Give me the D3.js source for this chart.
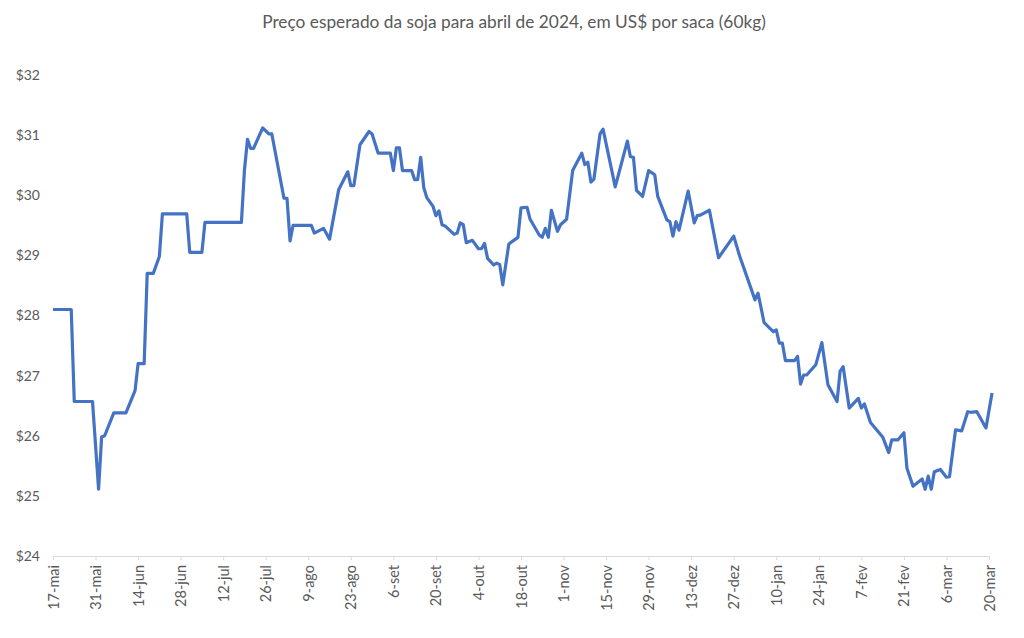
<!DOCTYPE html>
<html>
<head>
<meta charset="utf-8">
<script src="https://cdn.jsdelivr.net/npm/d3@7"></script>
<style>
    body { margin: 0; background: #fff; }
    #chart-area { width: 1024px; height: 638px; }
    .axis text { font-family: Lato, "Open Sans", sans-serif; fill: #595959; }
</style>
</head>
<body>
<div id="chart-area"></div>
<script>

// primeiro dia da serie
let startDate = new Date(2023, 4, 17);

// dias desde 17-mai-2023
let dayOffsets = [
    0, 6, 7, 13, 15, 16, 17, 20, 24, 27, 28, 30, 31, 33, 35, 36, 44, 45, 49, 50,
    62, 63, 64, 65, 66, 69, 71, 72, 76, 77, 78, 79, 85, 86, 89, 91, 94, 97, 98, 99,
    101, 104, 105, 107, 111, 112, 113, 114, 115, 118, 119, 120, 121, 122, 123, 125, 126, 127, 128, 129,
    132, 133, 134, 135, 136, 138, 140, 141, 142, 143, 145, 146, 147, 148, 150, 153, 154, 156, 157, 160,
    161, 162, 163, 164, 166, 167, 169, 171, 174, 175, 176, 177, 178, 180, 181, 185, 189, 190, 191, 192,
    194, 196, 198, 199, 202, 203, 204, 205, 206, 209, 211, 212, 213, 216, 219, 224, 226, 231, 232, 234,
    237, 238, 239, 240, 241, 244, 245, 246, 247, 248, 251, 253, 255, 258, 259, 260, 262, 265, 266, 267,
    269, 273, 275, 276, 278, 280, 281, 283, 286, 287, 288, 289, 290, 292, 294, 295, 297, 299, 301, 302,
    304, 307, 309
];

// preco esperado, US$ por saca de 60kg
let prices = [
    28.10, 28.10, 26.57, 26.57, 25.11, 25.98, 26.00, 26.38, 26.38, 26.75, 27.20, 27.20, 28.70, 28.70, 28.98, 29.69, 29.69, 29.05, 29.05, 29.55,
    29.55, 30.42, 30.93, 30.78, 30.78, 31.12, 31.02, 31.02, 29.95, 29.95, 29.24, 29.50, 29.50, 29.37, 29.45, 29.27, 30.09, 30.39, 30.16, 30.16,
    30.84, 31.06, 31.02, 30.70, 30.70, 30.41, 30.79, 30.79, 30.41, 30.41, 30.26, 30.26, 30.63, 30.13, 29.96, 29.82, 29.66, 29.74, 29.51, 29.49,
    29.35, 29.37, 29.54, 29.51, 29.21, 29.25, 29.11, 29.11, 29.20, 28.95, 28.84, 28.87, 28.85, 28.51, 29.19, 29.30, 29.79, 29.80, 29.60, 29.34,
    29.30, 29.45, 29.30, 29.75, 29.40, 29.51, 29.60, 30.41, 30.70, 30.51, 30.55, 30.22, 30.27, 31.02, 31.10, 30.14, 30.90, 30.64, 30.63, 30.08,
    29.98, 30.41, 30.34, 29.98, 29.59, 29.56, 29.32, 29.56, 29.42, 30.07, 29.54, 29.66, 29.67, 29.75, 28.96, 29.32, 28.98, 28.26, 28.37, 27.88,
    27.73, 27.76, 27.54, 27.54, 27.25, 27.25, 27.32, 26.86, 27.01, 27.01, 27.18, 27.55, 26.85, 26.57, 27.07, 27.15, 26.46, 26.62, 26.46, 26.53,
    26.22, 25.98, 25.72, 25.93, 25.93, 26.05, 25.46, 25.16, 25.28, 25.11, 25.33, 25.11, 25.40, 25.44, 25.31, 25.32, 26.10, 26.08, 26.40, 26.39,
    26.40, 26.13, 26.71
];

// rotulos do eixo x, um a cada 14 dias
let tickLabels = [
    "17-mai", "31-mai", "14-jun", "28-jun", "12-jul", "26-jul", "9-ago", "23-ago", "6-set", "20-set",
    "4-out", "18-out", "1-nov", "15-nov", "29-nov", "13-dez", "27-dez", "10-jan", "24-jan", "7-fev",
    "21-fev", "6-mar", "20-mar"
];

let yTicks = [24, 25, 26, 27, 28, 29, 30, 31, 32];

let chartTitle = "Preço esperado da soja para abril de 2024, em US$ por saca (60kg)";


class PriceChart {

    constructor(parentElement) {
        this.parentElement = parentElement;
        this.initVis();
    }

    initVis() {
        let vis = this;

        vis.margin = {top: 75, right: 35, bottom: 82, left: 53};
        vis.width = 1024 - vis.margin.left - vis.margin.right;
        vis.height = 638 - vis.margin.top - vis.margin.bottom;

        vis.root = d3.select("#" + vis.parentElement).append("svg")
            .attr("width", 1024)
            .attr("height", 638);

        vis.root.append("text")
            .attr("x", 514)
            .attr("y", 28)
            .attr("text-anchor", "middle")
            .attr("font-family", "Lato, 'Open Sans', sans-serif")
            .attr("font-size", 17.3)
            .attr("fill", "#595959")
            .text(chartTitle);

        vis.svg = vis.root.append("g")
            .attr("transform", "translate(" + vis.margin.left + "," + vis.margin.top + ")");

        vis.x = d3.scaleTime()
            .domain([startDate, d3.timeDay.offset(startDate, 308)])
            .range([0, vis.width]);

        vis.y = d3.scaleLinear()
            .domain([24, 32])
            .range([vis.height, 0]);

        vis.wrangleData();
    }

    wrangleData() {
        let vis = this;

        vis.series = dayOffsets.map((d, i) => ({
            date: d3.timeDay.offset(startDate, d),
            price: prices[i]
        }));

        vis.tickDates = tickLabels.map((d, i) => d3.timeDay.offset(startDate, i * 14));

        vis.updateVis();
    }

    updateVis() {
        let vis = this;

        // eixo y, so os rotulos
        let yAxis = d3.axisLeft(vis.y)
            .tickValues(yTicks)
            .tickSize(0)
            .tickPadding(13)
            .tickFormat(d => "$" + d);

        vis.svg.append("g")
            .attr("class", "y-axis axis")
            .call(yAxis)
            .call(g => g.select(".domain").remove())
            .selectAll("text")
            .attr("font-size", 14);

        // eixo x
        let xAxis = d3.axisBottom(vis.x)
            .tickValues(vis.tickDates)
            .tickSize(4)
            .tickFormat((d, i) => tickLabels[i]);

        let gx = vis.svg.append("g")
            .attr("class", "x-axis axis")
            .attr("transform", "translate(0," + vis.height + ")")
            .call(xAxis);

        gx.select(".domain").attr("stroke", "#d9d9d9");
        gx.selectAll(".tick line").attr("stroke", "#d9d9d9");
        gx.selectAll("text")
            .attr("font-size", 14.5)
            .attr("transform", "rotate(-90)")
            .attr("text-anchor", "end")
            .attr("x", -9)
            .attr("y", 0)
            .attr("dy", "0.35em");

        vis.svg.append("path")
            .datum(vis.series)
            .attr("d", d3.line()
                .x(d => vis.x(d.date))
                .y(d => vis.y(d.price)))
            .attr("fill", "none")
            .attr("stroke", "#4472c4")
            .attr("stroke-width", 3.2)
            .attr("stroke-linejoin", "round");
    }
}

new PriceChart("chart-area");

</script>
</body>
</html>
